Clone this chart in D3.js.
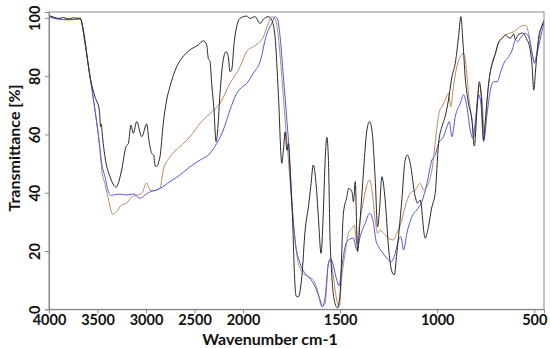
<!DOCTYPE html>
<meta charset="utf-8">
<head>
  <style>
    body { margin: 0; background: #fff; }
    .tick-label { font: bold 14.5px Lato, sans-serif; fill: #111; }
    .axis-title { font: bold 16px Lato, sans-serif; fill: #111; }
    .spectrum { fill: none; stroke-width: 1; }
  </style>
  <script src="https://cdn.jsdelivr.net/npm/d3@7"></script>
</head>
<body>
  <div id="viz"></div>
</body>
<script>
// [wavenumber cm-1, transmittance %]
var blackData = [[4000,100.8],[3950,100.2],[3900,99.8],[3850,100.1],[3800,99.6],[3750,100.0],[3700,99.8],[3680,100.0],[3646,95.8],[3577,79.8],[3526,72.9],[3481,68.4],[3467,62.6],[3460,63.5],[3452,60.5],[3423,52.3],[3371,45.5],[3320,42.1],[3309,41.9],[3251,47.8],[3206,55.8],[3182,56.9],[3155,63.2],[3131,60.4],[3096,64.4],[3044,59.2],[2993,63.6],[2970,58],[2941,53.5],[2920,52.8],[2907,49.3],[2897,48.9],[2856,52.3],[2822,63.8],[2787,71.8],[2753,76.4],[2684,83.2],[2632,86.1],[2546,89],[2461,90.7],[2409,92.1],[2374,90.7],[2358,86.1],[2340,85],[2323,77.5],[2299,68.4],[2278,57.5],[2260,62],[2237,74.1],[2209,84.4],[2175,88.4],[2152,86.7],[2134,81.5],[2117,82.1],[2090,91.8],[2065,97],[2031,99.8],[1981,100.6],[1964,99.8],[1938,100.4],[1912,98.1],[1895,99.5],[1870,100.4],[1852,99.2],[1835,93.5],[1818,74.1],[1800,50.1],[1792,54.6],[1783,60.9],[1774,54.6],[1766,56.9],[1758,47.8],[1744,29.5],[1736,13.5],[1727,4.6],[1715,4.3],[1697,11.2],[1680,27.2],[1663,35.2],[1651,42.1],[1638,49.5],[1624,43.2],[1612,31.8],[1598,19.2],[1586,34.1],[1577,51.2],[1568,59],[1560,51],[1552,25],[1543,12],[1526,2],[1513,0.5],[1500,5.5],[1483,32.9],[1465,38.6],[1457,41.5],[1439,40.3],[1431,36.9],[1422,43.8],[1410,19.8],[1397,30.6],[1379,47.8],[1362,61.5],[1348,64.4],[1336,61.5],[1319,44.4],[1307,28.3],[1297,34.1],[1285,45.5],[1268,37.5],[1251,21.5],[1233,12.9],[1221,11.8],[1208,19.2],[1182,37.5],[1165,51.2],[1153,52.9],[1139,50.1],[1113,38.6],[1101,36.4],[1088,37.5],[1062,24.4],[1045,28.3],[1027,35.2],[1019,37],[1010,40],[993,56.9],[976,62.6],[959,66.1],[942,71.8],[924,79.8],[907,84.4],[890,93.5],[878,100.4],[867,91.3],[856,79.8],[839,70.7],[821,64.9],[809,56],[795,68.4],[783,78.1],[773,72.9],[761,58.1],[752,64.9],[735,77.5],[717,84.4],[700,87.8],[683,91.8],[666,93],[649,94.1],[637,93.5],[623,93],[606,94.5],[597,92.5],[585,94],[560,94.8],[537,92.4],[529,91.3],[511,83.2],[503,75.2],[492,83.2],[477,93.5],[459,97.5],[450,99.2]];

var brownData = [[4000,100.5],[3900,99.5],[3800,99.3],[3700,99.5],[3680,99.6],[3670,99.2],[3629,91.3],[3577,79.8],[3526,68.4],[3481,56.9],[3457,48],[3423,43],[3389,38],[3343,32.6],[3302,33.5],[3251,35.8],[3199,36.4],[3147,38.6],[3096,39.2],[3044,39.8],[2993,43.4],[2959,40.9],[2907,40.7],[2856,41.5],[2822,47.8],[2753,52.3],[2650,55.8],[2546,59.2],[2443,63.8],[2340,67.2],[2237,70.7],[2134,77.5],[2031,83.2],[1981,88.4],[1947,90.1],[1921,91.3],[1895,93.5],[1870,98.1],[1852,100.4],[1835,99.8],[1818,93.5],[1800,79.8],[1783,64.9],[1766,51.2],[1749,36.4],[1732,23.8],[1715,15.8],[1689,12.3],[1663,11.2],[1638,10.1],[1617,6.6],[1594,0.9],[1577,2.1],[1560,15.8],[1548,16.9],[1535,11.2],[1517,3.2],[1504,1.0],[1491,11.2],[1474,19.2],[1457,26.1],[1439,27.8],[1427,28.9],[1414,22.6],[1397,30.6],[1379,37.5],[1362,42.6],[1348,44.4],[1336,40.9],[1319,30.6],[1307,26.1],[1294,27.2],[1276,26.1],[1251,24.4],[1225,23.8],[1208,26.1],[1187,29.5],[1165,35.2],[1139,39.8],[1113,40.9],[1088,43.2],[1070,40.9],[1045,43.2],[1027,47.8],[1002,62],[988,68],[976,69.5],[959,71.8],[942,74.1],[930,69.5],[916,76.4],[899,83.2],[881,86.7],[864,87.8],[851,83.2],[839,74.1],[821,64.9],[809,59.2],[795,70.7],[783,77],[769,71.8],[757,60.4],[743,71.8],[726,81.8],[709,85.5],[691,90.1],[666,93],[640,94.4],[606,95.2],[572,97],[546,97.5],[529,94.7],[511,87.8],[499,85],[485,88.9],[468,95.8],[451,98.6]];

var blueData = [[4000,100.3],[3900,99.6],[3800,99.4],[3700,99.6],[3680,99.7],[3670,99.2],[3629,91.3],[3577,79.8],[3526,68.4],[3481,56.9],[3457,50.1],[3423,45.5],[3389,40.5],[3354,39],[3337,39.2],[3268,39.5],[3199,39.2],[3131,39.6],[3062,38.1],[3010,39.2],[2959,40.3],[2924,40.6],[2856,41.5],[2753,43.8],[2650,46.1],[2546,48.9],[2443,51.2],[2340,53.5],[2271,56.9],[2203,61.5],[2134,68.4],[2065,74.1],[2000,76.5],[1981,77.5],[1947,81],[1912,85],[1878,94.4],[1852,98.1],[1835,100.4],[1823,99.8],[1809,93.5],[1792,79.8],[1774,64.9],[1758,50],[1749,38],[1732,23.8],[1706,15.8],[1680,12.3],[1655,10.6],[1629,7.8],[1603,3.2],[1591,0.9],[1577,4.3],[1560,15.8],[1548,17.5],[1535,15],[1517,10],[1505,8],[1491,14.6],[1474,21.5],[1457,23.8],[1431,24.4],[1414,20.3],[1397,24.9],[1371,29.5],[1348,32.9],[1331,30.6],[1314,23.2],[1302,21.5],[1285,19.8],[1259,17.5],[1237,16.3],[1216,19.2],[1199,23.8],[1187,24.9],[1173,20.3],[1156,26.1],[1130,31.8],[1105,34.1],[1079,36.9],[1053,43.2],[1027,51.2],[1010,53],[993,56.9],[968,59.2],[950,62.6],[938,64.4],[924,59.2],[907,66.1],[881,70.7],[864,73.6],[847,69.5],[830,61.5],[816,58.7],[801,66.1],[787,73.6],[775,70.7],[761,57.5],[743,67.2],[726,75.2],[709,78.1],[691,78.1],[675,81],[657,84.4],[632,86.7],[614,88.9],[597,92.4],[585,91.8],[572,93],[546,94.7],[529,93.5],[511,87.8],[499,84.4],[482,88.9],[459,95.8],[451,98.1]];

var xTicks = [4000, 3500, 3000, 2500, 2000, 1500, 1000, 500];
var yTicks = [0, 20, 40, 60, 80, 100];
var series = [
  {data: brownData, color: "#b98a62"},
  {data: blueData, color: "#5a55e6"},
  {data: blackData, color: "#2a2a2a"}
];

var W = 550, H = 348;
var plotL = 49, plotR = 544, plotT = 12, plotB = 309.3;

var svg = d3.select("#viz")
  .append("svg")
    .attr("width", W)
    .attr("height", H);

/* scale changes at 2000 cm-1, like the instrument output */
var x = d3.scaleLinear()
  .domain([4000, 2000, 450])
  .range([plotL, 243, plotR]);

var y = d3.scaleLinear()
  .domain([0, 102])
  .range([plotB, plotT]);

svg.append("clipPath").attr("id", "plot")
  .append("rect")
    .attr("x", plotL).attr("y", plotT)
    .attr("width", plotR - plotL).attr("height", plotB - plotT);

var line = d3.line()
  .x(function(d) { return x(d[0]); })
  .y(function(d) { return y(d[1]); })
  .curve(d3.curveMonotoneX);

svg.selectAll(".spectrum")
  .data(series)
  .enter()
  .append("path")
    .attr("class", "spectrum")
    .attr("clip-path", "url(#plot)")
    .attr("stroke", function(s) { return s.color; })
    .attr("d", function(s) { return line(s.data); });

// frame
svg.append("rect")
  .attr("x", plotL).attr("y", plotT)
  .attr("width", plotR - plotL).attr("height", plotB - plotT)
  .attr("fill", "none")
  .attr("stroke", "#8a8a8a");

var xAxis = svg.append("g")
  .attr("transform", "translate(0," + plotB + ")")
  .call(d3.axisBottom(x).tickValues(xTicks).tickSize(4).tickFormat(d3.format("d")));
xAxis.select(".domain").attr("stroke", "#8a8a8a");
xAxis.selectAll(".tick line").attr("stroke", "#8a8a8a");
xAxis.selectAll(".tick text")
  .attr("class", "tick-label")
  .attr("dy", null)
  .attr("y", 16);

var yAxis = svg.append("g")
  .attr("transform", "translate(" + plotL + ",0)")
  .call(d3.axisLeft(y).tickValues(yTicks).tickSize(4));
yAxis.select(".domain").attr("stroke", "#8a8a8a");
yAxis.selectAll(".tick line").attr("stroke", "#8a8a8a");
yAxis.selectAll(".tick text")
  .attr("class", "tick-label")
  .attr("x", null).attr("dy", null)
  .attr("text-anchor", "middle")
  .attr("transform", "translate(-9,0) rotate(-90)");

svg.append("text")
  .attr("class", "axis-title")
  .attr("x", 270)
  .attr("y", 345)
  .attr("text-anchor", "middle")
  .text("Wavenumber cm-1");

svg.append("text")
  .attr("class", "axis-title")
  .attr("transform", "translate(20,148) rotate(-90)")
  .attr("text-anchor", "middle")
  .text("Transmittance [%]");
</script>
